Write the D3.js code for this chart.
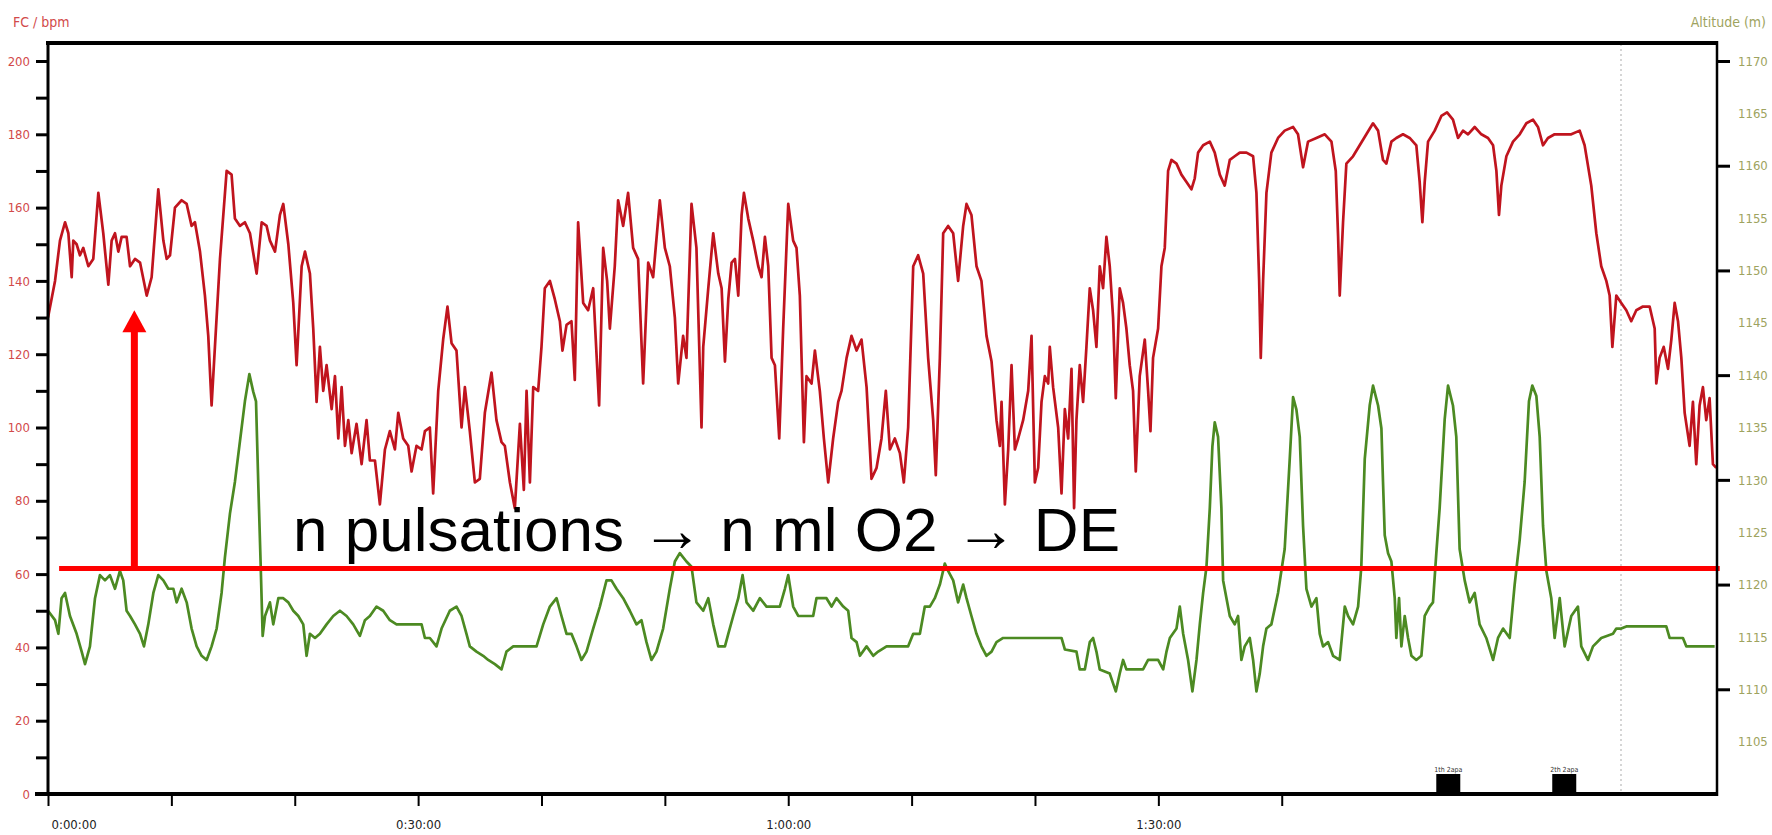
<!DOCTYPE html>
<html><head><meta charset="utf-8">
<script src="https://cdn.jsdelivr.net/npm/d3@7"></script>
<style>
html,body{margin:0;padding:0;background:#fff;}
svg{display:block;}
.lab{font-family:"Liberation Sans Narrow","Arial Narrow","DejaVu Sans Condensed",sans-serif;font-stretch:condensed;}
</style></head><body>
<svg id="c" width="1772" height="835"></svg>
<script>
// ---- DATA (time in minutes) ----
const hrSeries = [
[0,130],[0.57,140],[0.97,151],[1.38,156],[1.65,153],[1.92,141],[2.05,151],[2.32,150],[2.59,147],[2.86,149],[3.27,144],[3.67,146],[4.08,164],[4.48,153],[4.89,139],[5.16,151],[5.43,153],[5.70,148],[5.97,152],[6.37,152],[6.65,144],[7.05,146],[7.46,145],[8.00,136],[8.40,141],[8.94,165],[9.35,151],[9.62,146],[9.89,147],[10.29,160],[10.83,162],[11.24,161],[11.64,155],[11.91,156],[12.32,148],[12.72,136],[12.99,125],[13.26,106],[13.53,122],[13.94,146],[14.48,170],[14.88,169],[15.15,157],[15.56,155],[15.96,156],[16.37,153],[16.91,142],[17.32,156],[17.72,155],[17.99,151],[18.40,148],[18.80,158],[19.07,161],[19.48,150],[19.88,134],[20.15,117],[20.56,144],[20.83,148],[21.23,142],[21.50,127],[21.77,107],[22.04,122],[22.31,110],[22.58,117],[22.99,105],[23.26,114],[23.53,97],[23.80,111],[24.07,95],[24.34,102],[24.61,93],[25.01,101],[25.42,90],[25.82,102],[26.09,91],
[26.50,91],[26.90,79],[27.31,94],[27.71,99],[28.12,94],[28.39,104],[28.79,97],[29.20,95],[29.47,88],[29.87,95],[30.28,94],[30.55,99],[30.95,100],[31.22,82],[31.63,110],[32.03,124],[32.38,133],[32.71,123],[33.11,121],[33.52,100],[33.79,111],[34.19,99],[34.60,85],[35.00,86],[35.41,104],[35.95,115],[36.35,102],[36.76,96],[37.03,95],[37.44,85],[37.84,78],[38.25,101],[38.57,83],[38.79,110],[39.06,85],[39.33,111],[39.73,110],[40.00,122],[40.27,138],[40.68,140],[41.08,135],[41.49,129],[41.70,121],[42.03,128],[42.43,129],[42.70,113],[42.97,156],[43.38,134],[43.78,132],[44.19,138],[44.67,106],[45.00,149],[45.32,140],[45.54,127],[45.94,144],[46.21,162],[46.62,155],[47.02,164],[47.43,149],[47.83,146],[48.24,112],[48.65,145],[49.05,141],[49.59,162],[50.00,149],[50.40,144],[50.81,130],[51.08,112],[51.48,125],[51.75,119],[52.16,161],[52.56,149],[52.97,100],
[53.11,122],[53.52,138],[53.92,153],[54.33,142],[54.60,138],[54.87,118],[55.14,135],[55.41,145],[55.68,146],[55.95,136],[56.22,158],[56.41,164],[56.76,157],[57.16,151],[57.57,144],[57.84,141],[58.11,152],[58.38,144],[58.65,119],[58.92,117],[59.27,97],[59.59,127],[60.00,161],[60.40,151],[60.67,149],[60.94,136],[61.27,96],[61.48,114],[61.89,112],[62.16,121],[62.56,110],[62.89,97],[63.24,85],[63.64,97],[64.05,107],[64.32,110],[64.73,119],[65.13,125],[65.54,121],[65.94,124],[66.35,111],[66.75,86],[67.16,89],[67.56,97],[67.91,110],[68.24,94],[68.64,97],[69.05,93],[69.37,85],[69.72,100],[70.13,144],[70.53,147],[70.94,142],[71.34,119],[71.75,102],[71.96,87],[72.29,119],[72.56,153],[72.96,155],[73.37,153],[73.77,140],[74.18,155],[74.45,161],[74.85,158],[75.26,144],[75.66,140],[76.07,125],[76.48,118],[76.88,102],[77.15,95],[77.29,107],[77.56,79],[77.83,94],[78.10,117],[78.37,94],[78.64,97],[79.04,102],[79.45,110],[79.72,125],
[79.99,85],[80.26,89],[80.53,107],[80.80,114],[81.07,112],[81.20,122],[81.47,111],[81.88,100],[82.15,82],[82.42,105],[82.69,97],[82.96,116],[83.17,78],[83.36,102],[83.63,117],[83.90,107],[84.17,122],[84.44,138],[84.71,132],[84.98,122],[85.25,144],[85.52,138],[85.79,152],[86.06,144],[86.33,130],[86.55,108],[86.87,138],[87.14,134],[87.41,127],[87.68,117],[87.95,110],[88.17,88],[88.49,114],[88.90,124],[89.17,110],[89.36,99],[89.57,119],[89.98,127],[90.25,144],[90.52,149],[90.79,170],[91.06,173],[91.47,172],[91.87,169],[92.28,167],[92.68,165],[92.95,168],[93.22,175],[93.63,177],[94.17,178],[94.57,175],[94.98,169],[95.38,166],[95.79,173],[96.19,174],[96.60,175],[97.14,175],[97.68,174],[97.95,164],[98.17,140],[98.30,119],[98.49,140],[98.76,164],[99.16,175],[99.70,179],[100.24,181],[100.92,182],[101.32,180],[101.73,171],[102.13,178],[102.81,179],[103.49,180],[104.03,178],[104.38,170],[104.57,152],[104.70,136],[104.97,156],[105.24,172],[105.78,174],
[106.32,177],[106.86,180],[107.40,183],[107.81,181],[108.21,173],[108.48,172],[108.89,178],[109.29,179],[109.83,180],[110.37,179],[110.91,177],[111.18,167],[111.40,156],[111.59,167],[111.86,178],[112.40,181],[112.94,185],[113.40,186],[113.88,184],[114.29,179],[114.69,181],[115.10,180],[115.64,182],[116.18,180],[116.72,179],[117.13,177],[117.40,170],[117.61,158],[117.80,166],[118.21,174],[118.75,178],[119.29,180],[119.83,183],[120.37,184],[120.77,182],[121.18,177],[121.58,179],[122.12,180],[122.80,180],[123.47,180],[124.15,181],[124.55,177],[125.09,166],[125.50,153],[125.90,144],[126.31,140],[126.58,136],[126.80,122],[127.12,136],[127.52,134],[127.93,132],[128.33,129],[128.74,132],[129.28,133],[129.82,133],[130.23,127],[130.36,112],[130.63,119],[130.96,122],[131.31,116],[131.58,124],[131.85,134],[132.12,129],[132.39,119],[132.66,104],[133.06,95],[133.33,107],[133.60,90],[133.87,106],[134.14,111],[134.41,102],[134.68,108],[134.95,90],[135.22,89]
];
const altSeries = [
[0,1117.5],[0.57,1116.6],[0.84,1115.3],[1.10,1118.7],[1.38,1119.2],[1.78,1117.0],[2.32,1115.3],[2.73,1113.6],[3.00,1112.4],[3.40,1114.1],[3.81,1118.7],[4.21,1120.9],[4.62,1120.4],[5.02,1120.9],[5.43,1119.6],[5.83,1121.3],[6.10,1120.4],[6.37,1117.5],[6.65,1117.0],[7.05,1116.2],[7.46,1115.3],[7.78,1114.1],[8.13,1116.2],[8.54,1119.2],[8.94,1120.9],[9.35,1120.4],[9.75,1119.6],[10.16,1119.6],[10.43,1118.3],[10.83,1119.6],[11.24,1118.3],[11.64,1115.8],[12.05,1114.1],[12.45,1113.2],[12.86,1112.8],[13.26,1114.1],[13.67,1115.8],[14.07,1119.2],[14.34,1122.6],[14.75,1126.8],[15.15,1129.8],[15.56,1133.7],[15.96,1137.5],[16.32,1140.1],[16.64,1138.4],[16.86,1137.5],[17.04,1129.8],[17.23,1122.2],[17.40,1115.1],[17.59,1117.0],[17.99,1118.3],[18.26,1116.2],[18.67,1118.7],[19.07,1118.7],[19.48,1118.3],[19.88,1117.5],[20.29,1117.0],[20.69,1116.2],[20.96,1113.2],[21.23,1115.3],[21.64,1114.9],[22.04,1115.3],[22.58,1116.2],[23.12,1117.0],[23.66,1117.5],[24.20,1117.0],[24.74,1116.2],[25.28,1115.1],[25.69,1116.6],
[26.09,1117.0],[26.63,1117.9],[27.17,1117.5],[27.71,1116.6],[28.25,1116.2],[29.33,1116.2],[30.28,1116.2],[30.55,1114.9],[30.95,1114.9],[31.49,1114.1],[31.90,1115.8],[32.57,1117.5],[33.11,1117.9],[33.52,1117.0],[33.92,1115.3],[34.19,1114.1],[34.73,1113.6],[35.27,1113.2],[35.68,1112.8],[36.22,1112.4],[36.76,1111.9],[37.16,1113.6],[37.71,1114.1],[38.52,1114.1],[39.60,1114.1],[40.14,1116.2],[40.68,1117.9],[41.22,1118.7],[41.62,1117.0],[42.03,1115.3],[42.43,1115.3],[42.84,1114.1],[43.24,1112.8],[43.65,1113.6],[44.19,1115.8],[44.73,1117.9],[45.27,1120.4],[45.67,1120.4],[46.08,1119.6],[46.62,1118.7],[47.16,1117.5],[47.70,1116.2],[48.10,1116.6],[48.51,1114.5],[48.91,1112.8],[49.32,1113.6],[49.86,1115.8],[50.40,1119.6],[50.81,1122.2],[51.21,1123.0],[51.75,1122.2],[52.16,1121.7],[52.56,1118.3],
[52.84,1117.9],[53.11,1117.5],[53.52,1118.7],[53.92,1116.2],[54.33,1114.1],[54.87,1114.1],[55.14,1115.3],[55.54,1117.0],[55.95,1118.7],[56.30,1120.9],[56.62,1118.3],[57.16,1117.5],[57.70,1118.7],[58.24,1117.9],[59.32,1117.9],[59.73,1119.6],[60.00,1120.9],[60.40,1117.9],[60.81,1117.0],[62.02,1117.0],[62.29,1118.7],[63.10,1118.7],[63.51,1117.9],[63.91,1118.7],[64.46,1117.9],[64.86,1117.5],[65.13,1114.9],[65.54,1114.5],[65.81,1113.2],[66.35,1114.1],[66.89,1113.2],[67.29,1113.6],[67.97,1114.1],[69.05,1114.1],[69.72,1114.1],[70.13,1115.3],[70.67,1115.3],[71.07,1117.9],[71.48,1117.9],[71.88,1118.7],[72.29,1120.0],[72.69,1122.0],[72.96,1121.3],[73.37,1120.4],[73.77,1118.3],[74.18,1120.0],[74.45,1118.7],[74.85,1117.0],[75.26,1115.3],[75.66,1114.1],[76.07,1113.2],[76.48,1113.6],[76.88,1114.5],[77.42,1114.9],[78.77,1114.9],
[79.58,1114.9],[82.15,1114.9],[82.42,1113.8],[83.36,1113.6],[83.63,1111.9],[84.04,1111.9],[84.44,1114.5],[84.71,1114.9],[84.98,1113.6],[85.25,1111.9],[86.06,1111.5],[86.55,1109.8],[86.87,1111.5],[87.14,1112.8],[87.41,1111.9],[88.76,1111.9],[89.17,1112.8],[89.98,1112.8],[90.39,1111.9],[90.66,1113.6],[90.93,1114.9],[91.47,1115.8],[91.74,1117.9],[92.01,1115.3],[92.41,1112.8],[92.76,1109.8],[93.09,1112.8],[93.36,1116.2],[93.63,1119.2],[93.90,1121.7],[94.17,1127.3],[94.38,1133.2],[94.57,1135.5],[94.84,1134.1],[95.11,1127.3],[95.25,1120.4],[95.52,1118.7],[95.79,1117.0],[96.19,1116.2],[96.46,1117.0],[96.73,1112.8],[97.00,1114.1],[97.41,1114.9],[97.68,1112.8],[97.95,1109.8],[98.22,1111.5],[98.49,1114.1],[98.76,1115.8],[99.16,1116.2],[99.70,1119.2],[100.24,1123.4],[100.65,1132.0],[100.92,1137.9],[101.19,1136.7],[101.46,1134.1],[101.73,1125.6],[102.00,1119.6],[102.41,1117.9],[102.81,1118.7],[103.08,1115.3],[103.35,1114.1],[103.76,1114.5],[104.16,1113.2],[104.70,1112.8],[105.11,1117.9],[105.38,1117.0],[105.78,1116.2],[106.19,1117.9],
[106.45,1121.7],[106.73,1132.0],[107.13,1137.1],[107.40,1139.0],[107.81,1137.1],[108.08,1134.9],[108.21,1129.8],[108.35,1124.7],[108.62,1123.0],[108.89,1122.2],[109.16,1118.7],[109.29,1114.9],[109.51,1118.7],[109.70,1114.1],[109.97,1117.0],[110.24,1114.9],[110.51,1113.2],[110.91,1112.8],[111.32,1113.2],[111.59,1117.0],[111.99,1117.9],[112.26,1118.3],[112.53,1123.0],[112.80,1127.3],[113.21,1135.8],[113.48,1139.0],[113.88,1137.1],[114.15,1134.1],[114.42,1123.4],[114.83,1120.4],[115.23,1118.3],[115.64,1119.2],[116.04,1116.2],[116.58,1114.9],[117.13,1112.8],[117.53,1114.9],[117.94,1115.8],[118.48,1114.9],[118.88,1120.0],[119.29,1124.3],[119.69,1129.8],[120.04,1137.5],[120.31,1139.0],[120.64,1138.0],[120.91,1134.1],[121.18,1125.6],[121.45,1121.3],[121.85,1118.7],[122.12,1114.9],[122.53,1118.7],[122.93,1114.1],[123.47,1117.0],[124.01,1117.9],[124.28,1114.1],[124.82,1112.8],[125.23,1114.1],[125.90,1114.9],[126.85,1115.3],[127.12,1115.8],[127.52,1115.8],[127.93,1116.0],[131.17,1116.0],[131.44,1114.9],[132.52,1114.9],[132.79,1114.1],[135.09,1114.1]
];
const hrTicks = d3.range(0, 201, 10);          // labelled every 20
const altTickLabels = d3.range(1105, 1171, 5);  // tick marks every 10
const timeTicks = d3.range(0, 101, 10);         // labelled every 30 min
const lapMarks = [{t: 113.5, label: "1th 2apa"}, {t: 122.9, label: "2th 2apa"}];
const markerLine = 127.5;                        // dotted vertical guide (min)
const annotation = {text: "n pulsations \u2192 n ml O2 \u2192 DE", level: 61.5, arrowT: 7.0, arrowTop: 132, lineFrom: 0.9, lineTo: 135.5};

// ---- SCALES ----
const svg = d3.select("#c");
const x = d3.scaleLinear().domain([0, 135.2]).range([48, 1716]);
const yHR = d3.scaleLinear().domain([0, 200]).range([794, 61]);
const yAlt = d3.scaleLinear().domain([1100, 1170]).range([794, 61]);
const fmtTime = m => `${Math.floor(m / 60)}:${String(m % 60).padStart(2, "0")}:00`;

// dotted vertical guide
svg.append("line").attr("x1", x(markerLine)).attr("x2", x(markerLine))
  .attr("y1", 44).attr("y2", 792).attr("stroke", "#c8c8c8").attr("stroke-width", 1.5)
  .attr("stroke-dasharray", "2,3");

// series
svg.append("path").datum(altSeries)
  .attr("d", d3.line().x(d => x(d[0])).y(d => yAlt(d[1])))
  .attr("fill", "none").attr("stroke", "#4c8a22").attr("stroke-width", 2.7)
  .attr("stroke-linejoin", "round");
svg.append("path").datum(hrSeries)
  .attr("d", d3.line().x(d => x(d[0])).y(d => yHR(d[1])))
  .attr("fill", "none").attr("stroke", "#c0141e").attr("stroke-width", 2.7)
  .attr("stroke-linejoin", "round");

// annotation
svg.append("line").attr("x1", x(annotation.lineFrom)).attr("x2", x(annotation.lineTo))
  .attr("y1", yHR(annotation.level)).attr("y2", yHR(annotation.level))
  .attr("stroke", "#ff0000").attr("stroke-width", 5);
const ax = x(annotation.arrowT), aTop = yHR(annotation.arrowTop);
svg.append("line").attr("x1", ax).attr("x2", ax).attr("y1", yHR(annotation.level)).attr("y2", aTop + 18)
  .attr("stroke", "#ff0000").attr("stroke-width", 7);
svg.append("path").attr("d", `M${ax},${aTop} L${ax - 12},${aTop + 22} L${ax + 12},${aTop + 22} Z`).attr("fill", "#ff0000");
svg.append("text").attr("x", 293).attr("y", 551)
  .attr("font-family", "'Liberation Sans', Arial, sans-serif").attr("font-size", 62).attr("fill", "#000")
  .text(annotation.text);

// ---- AXES ----
const gL = svg.append("g").attr("transform", "translate(48,0)")
  .call(d3.axisLeft(yHR).tickValues(hrTicks).tickSize(12).tickPadding(6)
    .tickFormat(d => d % 20 === 0 ? d : ""));
gL.select(".domain").remove();
gL.selectAll(".tick line").attr("stroke", "#000").attr("stroke-width", 3);
gL.selectAll(".tick text").attr("class", "lab").attr("fill", "#d24a4a").attr("font-size", 13);

const gR = svg.append("g").attr("transform", "translate(1717,0)")
  .call(d3.axisRight(yAlt).tickValues(altTickLabels).tickSize(13).tickPadding(8).tickFormat(d3.format("d")));
gR.select(".domain").remove();
gR.selectAll(".tick line").attr("stroke", "#000").attr("stroke-width", 3)
  .attr("opacity", d => d % 10 === 0 ? 1 : 0);
gR.selectAll(".tick text").attr("class", "lab").attr("fill", "#9ea35e").attr("font-size", 13);

const gB = svg.append("g").attr("transform", "translate(0,794)")
  .call(d3.axisBottom(x).tickValues(timeTicks).tickSize(12).tickPadding(14)
    .tickFormat(d => d % 30 === 0 ? fmtTime(d) : ""));
gB.select(".domain").remove();
gB.selectAll(".tick line").attr("stroke", "#000").attr("stroke-width", 2);
gB.selectAll(".tick text").attr("class", "lab").attr("fill", "#222").attr("font-size", 13)
  .attr("text-anchor", d => d === 0 ? "start" : "middle").attr("dx", d => d === 0 ? 3 : 0);

// frame
svg.append("line").attr("x1", 46).attr("x2", 1718).attr("y1", 43).attr("y2", 43).attr("stroke", "#000").attr("stroke-width", 4);
svg.append("line").attr("x1", 48).attr("x2", 48).attr("y1", 41).attr("y2", 796).attr("stroke", "#000").attr("stroke-width", 3);
svg.append("line").attr("x1", 1717).attr("x2", 1717).attr("y1", 41).attr("y2", 796).attr("stroke", "#000").attr("stroke-width", 2.5);
svg.append("line").attr("x1", 35).attr("x2", 1718).attr("y1", 794).attr("y2", 794).attr("stroke", "#000").attr("stroke-width", 4);

// lap markers
const lm = svg.append("g").selectAll("g").data(lapMarks).join("g")
  .attr("transform", d => `translate(${x(d.t)},794)`);
lm.append("rect").attr("x", -12).attr("y", -20).attr("width", 24).attr("height", 20).attr("fill", "#000");
lm.append("text").attr("class", "lab").attr("y", -22).attr("text-anchor", "middle")
  .attr("font-size", 7).attr("fill", "#333").text(d => d.label);

// axis titles
svg.append("text").attr("class", "lab").attr("x", 13).attr("y", 27).attr("font-size", 14)
  .attr("fill", "#d24a4a").text("FC / bpm");
svg.append("text").attr("class", "lab").attr("x", 1766).attr("y", 27).attr("text-anchor", "end")
  .attr("font-size", 14).attr("fill", "#9ea35e").text("Altitude (m)");
</script></body></html>
